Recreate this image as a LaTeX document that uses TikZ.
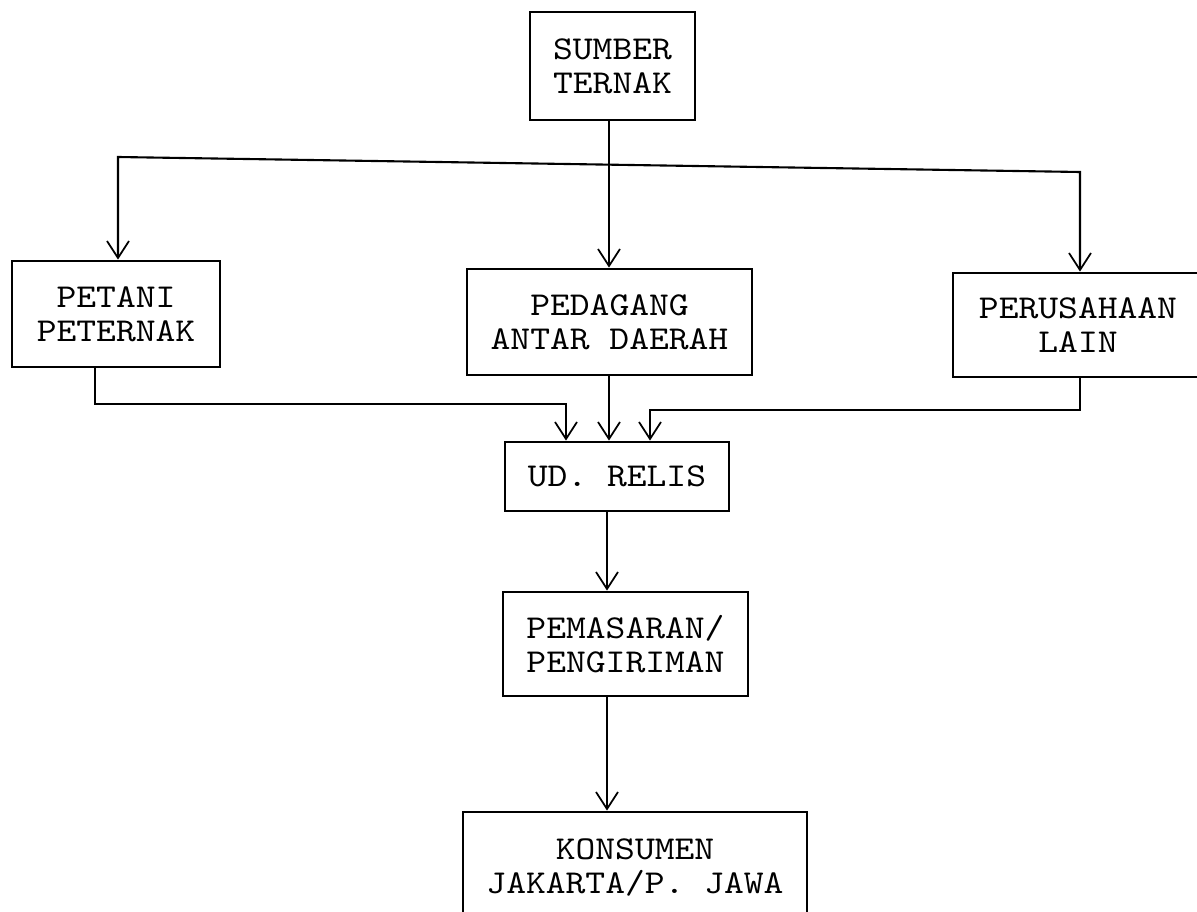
\documentclass[tikz,border=0pt]{standalone}
\usepackage{fontspec}
\newfontfamily\typefont[Extension=.otf, FakeStretch=1.13]{lmmono10-regular}
\usetikzlibrary{arrows.meta}
\begin{document}
\begin{tikzpicture}[x=0.02cm,y=-0.02cm,
  box/.style={draw, line width=1.6pt, inner sep=0pt, align=center,
    font=\typefont\fontsize{19}{19.5}\selectfont},
  bx/.style 2 args={minimum width=#1*0.02cm, minimum height=#2*0.02cm},
  conn/.style={line width=1.2pt},
  arr/.style={conn, -{Straight Barb[length=0.34cm, width=0.44cm, line width=1pt]}},
  arrboth/.style={conn, {Straight Barb[length=0.34cm, width=0.44cm, line width=1pt]}-{Straight Barb[length=0.34cm, width=0.44cm, line width=1pt]}}
]
\fill[white] (0,0) rectangle (1197,912);
\useasboundingbox (0,0) rectangle (1197,912);

% boxes
\node[box, bx={165}{108}] (sumber) at (612.5,66) {SUMBER\\TERNAK};
\node[box, bx={208}{106}] (petani) at (116,314) {PETANI\\PETERNAK};
\node[box, bx={285}{106}] (pedagang) at (609.5,322) {PEDAGANG\\ANTAR DAERAH};
\node[box, bx={250}{104}] (perusahaan) at (1078,325) {PERUSAHAAN\\LAIN};
\node[box, bx={224}{69}] (ud) at (617,476.5) {UD. RELIS};
\node[box, bx={245}{104}] (pemasaran) at (625.5,644) {PEMASARAN/\\PENGIRIMAN};
\node[box, bx={344}{108}, text depth=0pt] (konsumen) at (635,866) {KONSUMEN\\JAKARTA/P. JAWA};

% helper coordinates
\coordinate (xm) at (609,0);
\coordinate (xl) at (95,0);
\coordinate (xr) at (1080,0);
\coordinate (bL) at (118,157);
\coordinate (bR) at (1080,172);
\coordinate (a1) at (566,0);
\coordinate (a3) at (650,0);
\coordinate (xd) at (607,0);
\coordinate (hl) at (0,404);
\coordinate (hr) at (0,410);

% connectors
\draw[arr] (sumber.south -| xm) -- (pedagang.north -| xm);
\draw[arrboth] (petani.north -| bL) -- (bL) -- (bR) -- (perusahaan.north -| bR);
\draw[arr] (petani.south -| xl) -- (xl |- hl) -- (a1 |- hl) -- (ud.north -| a1);
\draw[arr] (pedagang.south -| xm) -- (ud.north -| xm);
\draw[arr] (perusahaan.south -| xr) -- (xr |- hr) -- (a3 |- hr) -- (ud.north -| a3);
\draw[arr] (ud.south -| xd) -- (pemasaran.north -| xd);
\draw[arr] (pemasaran.south -| xd) -- (konsumen.north -| xd);
\end{tikzpicture}
\end{document}
